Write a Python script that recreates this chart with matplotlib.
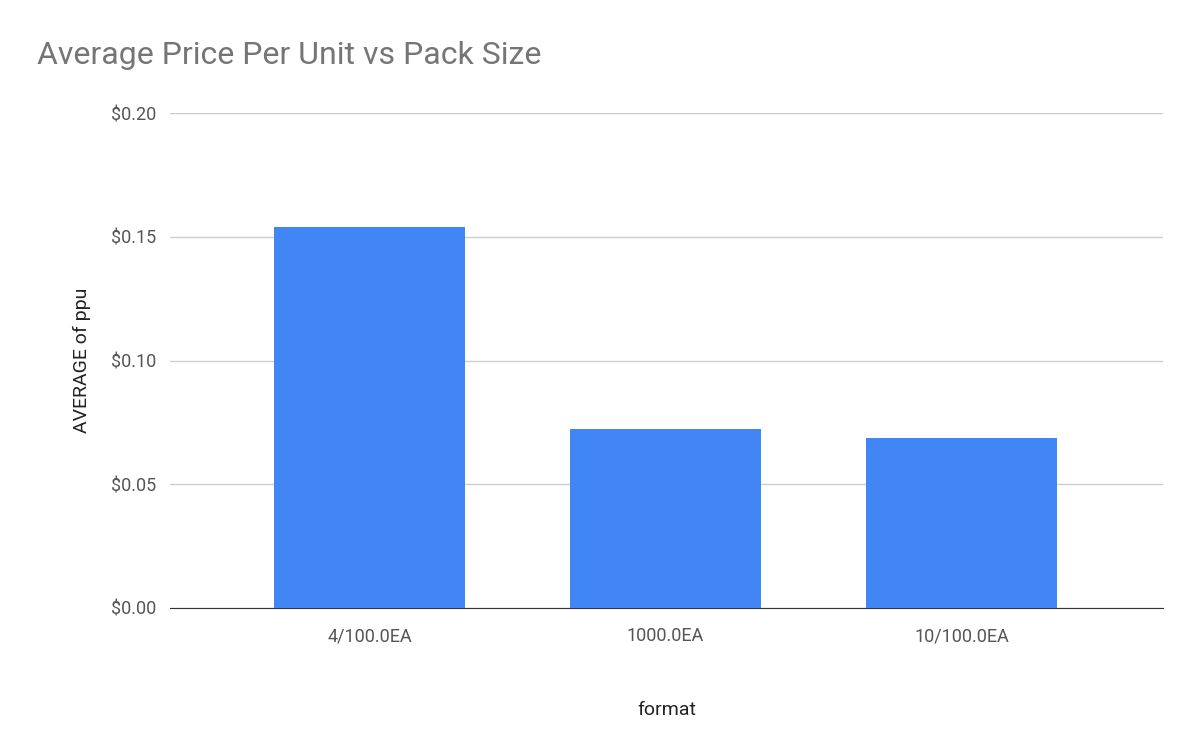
import matplotlib
matplotlib.use("Agg")
import matplotlib.pyplot as plt
from matplotlib.ticker import FuncFormatter

categories = ["4/100.0EA", "1000.0EA", "10/100.0EA"]
values = [0.1539, 0.0723, 0.0687]
yticks = [0.0, 0.05, 0.10, 0.15, 0.20]

plt.rcParams['font.family'] = ['Roboto', 'DejaVu Sans']
fig = plt.figure(figsize=(12, 7.42), dpi=100)
ax = fig.add_axes([170/1200, 1-608/742, (1163-170)/1200, (608-113)/742])
x = range(len(categories))
ax.bar(x, values, width=0.645, color="#4285f4", zorder=3)
ax.set_xlim(-0.674, 2.68)
ax.set_ylim(0, 0.20)
ax.set_yticks(yticks)
ax.yaxis.set_major_formatter(FuncFormatter(lambda v, p: f"${v:.2f}"))
ax.set_xticks(list(x))
ax.set_xticklabels(categories)
ax.grid(axis='y', color="#cccccc", linewidth=1, zorder=0)
for s in ["top", "right", "left"]:
    ax.spines[s].set_visible(False)
ax.spines["bottom"].set_color("#333333")
ax.tick_params(axis='both', length=0, labelsize=13, colors="#555555", pad=10)
ax.tick_params(axis='x', pad=14)
ax.set_xlabel("format", fontsize=14, color="#222222", labelpad=40)
ax.set_ylabel("AVERAGE of ppu", fontsize=14, color="#222222", labelpad=14)
fig.text(37/1200, 1-55/742, "Average Price Per Unit vs Pack Size", fontsize=23, color="#757575", va="center")
fig.savefig("out.png", dpi=100, facecolor="white")
